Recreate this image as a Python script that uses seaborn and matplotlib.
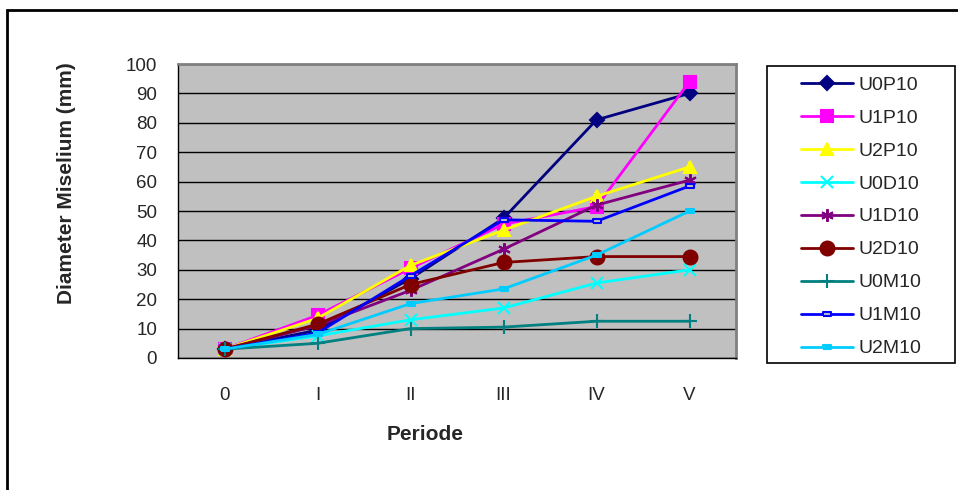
import matplotlib
matplotlib.use("Agg")
import matplotlib.pyplot as plt
import seaborn as sns
import numpy as np
import pandas as pd
from matplotlib.patches import Rectangle

periods = ["0", "I", "II", "III", "IV", "V"]
series_names = ["U0P10", "U1P10", "U2P10", "U0D10", "U1D10", "U2D10", "U0M10", "U1M10", "U2M10"]
U0P10 = [3, 9.5, 27, 47.5, 81, 90]
U1P10 = [3, 14.5, 30.5, 45.5, 51.5, 94]
U2P10 = [3, 13.5, 31.5, 43.5, 55, 65]
U0D10 = [3, 7.5, 13, 17, 25.5, 30]
U1D10 = [3, 11, 23, 37, 52, 60.5]
U2D10 = [3, 11.5, 25, 32.5, 34.5, 34.5]
U0M10 = [3, 5, 10, 10.5, 12.5, 12.5]
U1M10 = [3, 8.5, 28, 47, 46.5, 58.5]
U2M10 = [3, 8, 18.5, 23.5, 35, 50]
values = [U0P10, U1P10, U2P10, U0D10, U1D10, U2D10, U0M10, U1M10, U2M10]

colors = ["#000080", "#FF00FF", "#FFFF00", "#00FFFF", "#800080", "#800000", "#008080", "#0000FF", "#00CCFF"]
rect = [(-1, -0.45), (1, -0.45), (1, 0.45), (-1, 0.45), (-1, -0.45)]
markers = ["D", "s", "^", "x", (6, 2, 0), "o", "+", rect, rect]
msizes = [7, 9, 9, 9, 9, 10, 10, 6, 6]

sns.set_style("white")
plt.rcParams["font.family"] = ["Liberation Sans", "DejaVu Sans"]

fig = plt.figure(figsize=(9.58, 4.90), dpi=100)
ax = fig.add_axes([178 / 958, 1 - 358 / 490, (736 - 178) / 958, (358 - 64) / 490])
ax.set_facecolor("#C0C0C0")

xpos = np.arange(len(periods))
for name, vals, c, m, ms in zip(series_names, values, colors, markers, msizes):
    df = pd.DataFrame({"x": xpos, "y": vals})
    mfc = "#C0C0C0" if name == "U1M10" else c
    sns.lineplot(data=df, x="x", y="y", ax=ax, color=c, marker=m, markersize=ms,
                 markerfacecolor=mfc, markeredgecolor=c, markeredgewidth=1.5,
                 linewidth=2, label=name, zorder=3)

ax.set_xlim(-0.5, 5.5)
ax.set_ylim(0, 100)
ax.set_yticks(np.arange(0, 101, 10))
ax.yaxis.grid(True, color="black", linewidth=1)
ax.set_axisbelow(True)
ax.set_xticks(xpos)
ax.set_xticklabels(periods, fontsize=13.5)
ax.set_xticks(np.arange(-0.5, 6, 1), minor=True)
ax.tick_params(axis="x", which="major", length=0, pad=21)
ax.tick_params(axis="x", which="minor", length=5, width=1, color="black", direction="out")
ax.tick_params(axis="y", length=6, width=1, color="black", direction="out", labelsize=13.5, pad=9)

ax.set_xlabel("Periode", fontsize=15, fontweight="bold")
ax.set_ylabel("Diameter Miselium (mm)", fontsize=15, fontweight="bold")
ax.xaxis.label.set_va("center")
ax.yaxis.label.set_va("center")
ax.xaxis.set_label_coords((425 - 178) / 558, (358 - 435) / 294)
ax.yaxis.set_label_coords((66.5 - 178) / 558, (358 - 183.5) / 294)

for s in ["left", "bottom"]:
    ax.spines[s].set_color("black")
    ax.spines[s].set_linewidth(1)
for s in ["top", "right"]:
    ax.spines[s].set_color("#808080")
    ax.spines[s].set_linewidth(2)

leg = ax.legend(loc="upper left", bbox_to_anchor=(801 / 958, 1 - 76 / 490),
                bbox_transform=fig.transFigure, borderaxespad=0, borderpad=0, fontsize=14,
                frameon=False, labelspacing=0.79, handlelength=2.68, handletextpad=0.3)

fig.patches.append(Rectangle((767 / 958, 1 - 363 / 490), (955 - 767) / 958, (363 - 66) / 490,
                             transform=fig.transFigure, fill=False, edgecolor="black", linewidth=1.2))
fig.patches.append(Rectangle((7 / 958, -0.1), 1.2, 1 - 10 / 490 + 0.1, transform=fig.transFigure,
                             fill=False, edgecolor="black", linewidth=2))

fig.savefig("out.png", dpi=100)
